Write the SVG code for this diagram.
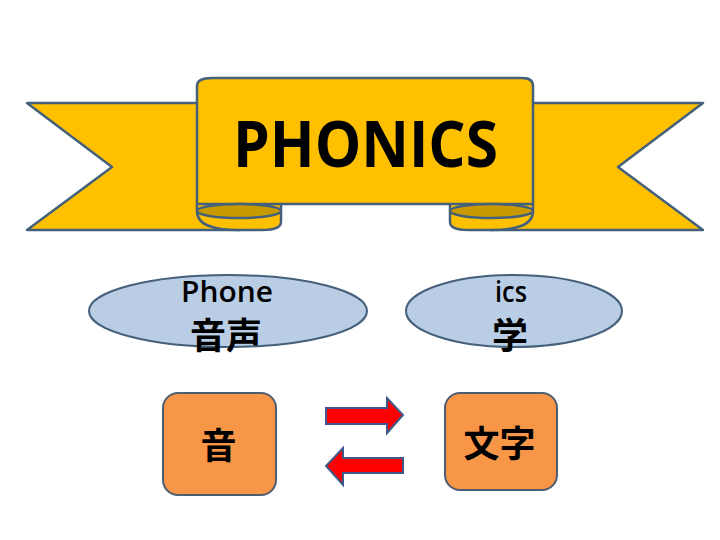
<svg xmlns="http://www.w3.org/2000/svg" width="720" height="540" viewBox="0 0 720 540">
<style>
.rib{fill:#FFC000;stroke:#44607A;stroke-width:2.5;stroke-linejoin:round}
.fold{fill:#C99A00;stroke:#44607A;stroke-width:2.5}
.ell{fill:#B9CDE5;stroke:#44607A;stroke-width:2}
.box{fill:#F79646;stroke:#4F5D73;stroke-width:2}
.arr{fill:#FF0000;stroke:#3F5A8A;stroke-width:2;stroke-linejoin:miter}
.lat{font-family:"Open Sans","Liberation Sans",sans-serif;font-weight:bold;fill:#000}
.sub{font-family:"Open Sans","Liberation Sans",sans-serif;font-weight:600;fill:#000}
.cjk{font-family:"Noto Sans CJK JP","Noto Sans CJK SC",sans-serif;font-weight:bold;fill:#000}
</style>
<rect width="720" height="540" fill="#FFFFFF"/>
<g id="banner">
<path class="rib" d="M27,103 L240,103 L240,230 L27,230 L112,167 Z"/>
<path class="rib" d="M703,103 L490,103 L490,230 L703,230 L618,167 Z"/>
<path class="rib" d="M197,204 L197,211 C197,226 215,230 239,230 L262,230 C275,230 281,227 281,222 L281,204"/>
<path class="rib" d="M533,204 L533,211 C533,226 515,230 491,230 L468,230 C455,230 450,227 450,222 L450,204"/>
<path class="rib" d="M197,204 L197,86 C197,80 203,78 212,78 L522,78 C529,78 533,80 533,86 L533,204 Z"/>
<ellipse class="fold" cx="239" cy="211" rx="42" ry="7"/>
<ellipse class="fold" cx="491.5" cy="211" rx="41.5" ry="7"/>
<text class="lat" x="233" y="167" font-size="64" textLength="265" lengthAdjust="spacingAndGlyphs">PHONICS</text>
</g>
<g id="phone">
<ellipse class="ell" cx="228" cy="311" rx="139" ry="36"/>
<text class="sub" x="181" y="302" font-size="28" textLength="92" lengthAdjust="spacingAndGlyphs">Phone</text>
<text class="cjk" x="226" y="349" font-size="36" text-anchor="middle">音声</text>
</g>
<g id="ics">
<ellipse class="ell" cx="514" cy="311" rx="108" ry="36"/>
<text class="sub" x="495" y="302" font-size="28" textLength="32" lengthAdjust="spacingAndGlyphs">ics</text>
<text class="cjk" x="510" y="349" font-size="36" text-anchor="middle">学</text>
</g>
<g id="sound">
<rect class="box" x="163" y="393" width="113" height="102" rx="15"/>
<text class="cjk" x="218.5" y="459" font-size="36" text-anchor="middle">音</text>
</g>
<g id="letters">
<rect class="box" x="445" y="393" width="112" height="97" rx="15"/>
<text class="cjk" x="499.5" y="457" font-size="36" text-anchor="middle">文字</text>
</g>
<g id="connectors">
<path class="arr" d="M326,408 L387,408 L387,398 L403,415 L387,433 L387,424 L326,424 Z"/>
<path class="arr" d="M403,458 L343,458 L343,448 L326,466 L343,485 L343,473 L403,473 Z"/>
</g>
</svg>
